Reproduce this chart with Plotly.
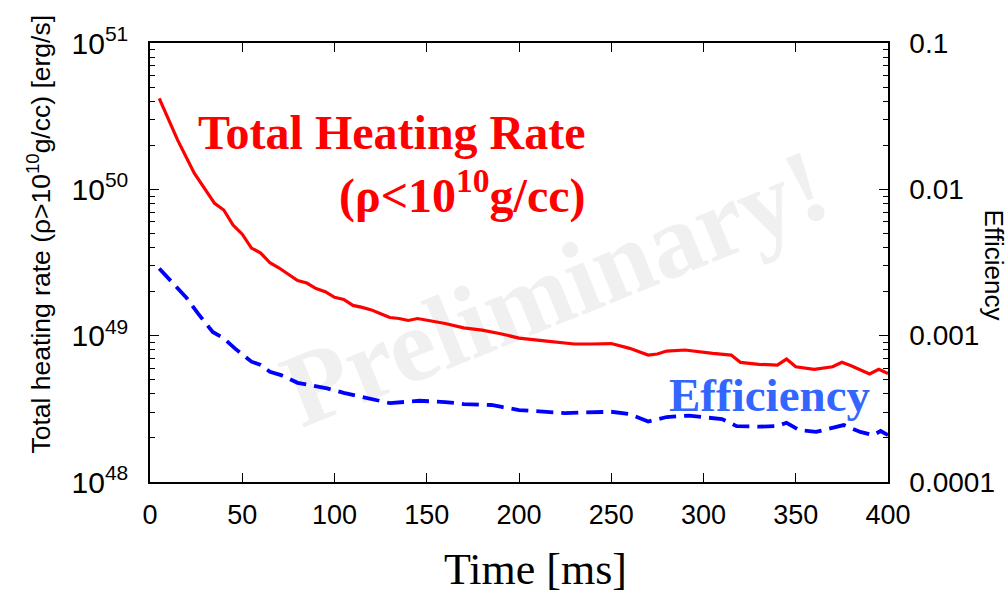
import plotly.graph_objects as go

# ---- data ----
t_heat = [5, 15, 24, 35, 40, 45, 50, 55, 60, 65, 70, 80, 85, 90, 95, 100, 105, 110, 115, 120,
          125, 130, 135, 140, 145, 155, 160, 170, 180, 190, 200, 215, 230, 240, 250, 260, 270, 275, 280, 290,
          300, 305, 315, 320, 330, 340, 345, 350, 360, 370, 375, 380, 390, 395, 400]
heat = [4.19e50, 2.17e50, 1.29e50, 8.02e49, 7.22e49, 5.70e49, 4.94e49, 3.97e49, 3.67e49, 3.15e49,
        2.90e49, 2.38e49, 2.29e49, 2.10e49, 2.00e49, 1.83e49, 1.77e49, 1.61e49, 1.56e49, 1.50e49,
        1.41e49, 1.33e49, 1.31e49, 1.27e49, 1.31e49, 1.24e49, 1.21e49, 1.13e49, 1.09e49, 1.03e49,
        9.63e48, 9.18e48, 8.77e48, 8.77e48, 8.83e48, 8.19e48, 7.37e48, 7.49e48, 7.85e48, 7.98e48,
        7.66e48, 7.57e48, 7.37e48, 6.57e48, 6.37e48, 6.30e48, 6.92e48, 6.13e48, 5.89e48, 6.13e48,
        6.57e48, 6.22e48, 5.47e48, 5.89e48, 5.52e48]

t_eff = [5, 15, 20, 26, 34, 40, 46, 55, 60, 65, 71, 80, 88, 96, 105, 115, 130, 146, 160, 170,
         185, 190, 200, 225, 245, 250, 260, 270, 280, 292, 310, 318, 330, 340, 345, 352, 361, 370, 376, 385,
         392, 396, 400]
eff = [2.88e-3, 2.10e-3, 1.80e-3, 1.42e-3, 1.06e-3, 9.59e-4, 8.19e-4, 6.64e-4, 6.30e-4, 5.66e-4,
       5.38e-4, 4.76e-4, 4.59e-4, 4.36e-4, 4.07e-4, 3.82e-4, 3.46e-4, 3.59e-4, 3.52e-4, 3.41e-4,
       3.36e-4, 3.27e-4, 3.10e-4, 2.96e-4, 3.01e-4, 3.02e-4, 2.91e-4, 2.59e-4, 2.78e-4, 2.84e-4,
       2.69e-4, 2.41e-4, 2.39e-4, 2.41e-4, 2.54e-4, 2.26e-4, 2.20e-4, 2.33e-4, 2.45e-4, 2.20e-4,
       2.09e-4, 2.23e-4, 2.09e-4]

x_ticks = [0, 50, 100, 150, 200, 250, 300, 350, 400]
y_ticks = [1e48, 1e49, 1e50, 1e51]
y_ticktext = ["10<sup>48</sup>", "10<sup>49</sup>", "10<sup>50</sup>", "10<sup>51</sup>"]
y2_ticks = [1e-4, 1e-3, 1e-2, 1e-1]
y2_ticktext = ["0.0001", "0.001", "0.01", "0.1"]

minor_left = [k * 10.0 ** e for e in (48, 49, 50) for k in range(2, 10)]
minor_right = [k * 10.0 ** e for e in (-4, -3, -2) for k in range(2, 10)]

SANS = "Liberation Sans, Arial, sans-serif"
SERIF = "Liberation Serif, Times New Roman, serif"

fig = go.Figure()
fig.add_trace(go.Scatter(x=t_heat, y=heat, mode="lines",
                         line=dict(color="#ff0000", width=3.2), yaxis="y"))
fig.add_trace(go.Scatter(x=t_eff, y=eff, mode="lines",
                         line=dict(color="#0000ff", width=3.8, dash="17px,8px"), yaxis="y2"))

fig.update_layout(
    width=1008, height=596,
    margin=dict(l=150, r=120, t=43, b=114),
    paper_bgcolor="white", plot_bgcolor="white",
    showlegend=False,
    xaxis=dict(range=[0, 400], tickvals=x_ticks, ticks="inside", ticklen=9, tickwidth=1.2,
               tickcolor="black", showline=True, linecolor="black", linewidth=1.5,
               mirror="ticks", showgrid=False, zeroline=False,
               tickfont=dict(family=SANS, size=27, color="black"), ticklabelstandoff=8),
    yaxis=dict(type="log", range=[48, 51], tickvals=y_ticks, ticktext=y_ticktext,
               ticks="inside", ticklen=9, tickwidth=1.2, tickcolor="black",
               showline=True, linecolor="black", linewidth=1.5, mirror=True,
               showgrid=False, zeroline=False,
               minor=dict(tickvals=minor_left, ticks="inside", ticklen=5, tickcolor="black", showgrid=False),
               tickfont=dict(family=SANS, size=30, color="black"), ticklabelstandoff=14),
    yaxis2=dict(type="log", range=[-4, -1], overlaying="y", side="right",
                tickvals=y2_ticks, ticktext=y2_ticktext,
                ticks="inside", ticklen=9, tickwidth=1.2, tickcolor="black",
                showline=True, linecolor="black", linewidth=1.5,
                showgrid=False, zeroline=False,
                minor=dict(tickvals=minor_right, ticks="inside", ticklen=5, tickcolor="black", showgrid=False),
                tickfont=dict(family=SANS, size=28, color="black"), ticklabelstandoff=14),
)

# watermark below the traces
fig.add_shape(type="rect", xref="paper", yref="paper", x0=0.343, x1=0.743, y0=0.316, y1=0.616,
              line=dict(width=0), fillcolor="rgba(0,0,0,0)", layer="below",
              label=dict(text="Preliminary!", textangle=-22,
                         font=dict(family=SERIF, size=105, color="#f0f0f0", weight="bold")))

annotations = [
    dict(text="Total Heating Rate", x=0.5935, y=0.795, xanchor="right", yanchor="middle",
         font=dict(family=SERIF, size=48, color="#ff0000", weight="bold")),
    dict(text="(ρ<10<sup>10</sup>g/cc)", x=0.5935, y=0.66, xanchor="right", yanchor="middle",
         font=dict(family=SERIF, size=48, color="#ff0000", weight="bold")),
    dict(text="Efficiency", x=0.840, y=0.198, xanchor="center", yanchor="middle",
         font=dict(family=SERIF, size=47, color="#3366ff", weight="bold")),
    dict(text="Time [ms]", x=0.523, y=-0.20, xanchor="center", yanchor="middle",
         font=dict(family=SERIF, size=44, color="black")),
    dict(text="Total heating rate (ρ>10<sup>10</sup>g/cc) [erg/s]", x=-0.151, y=0.565,
         xanchor="center", yanchor="middle", textangle=-90,
         font=dict(family=SANS, size=26.5, color="black")),
    dict(text="Efficiency", x=1.143, y=0.494, xanchor="center", yanchor="middle", textangle=90,
         font=dict(family=SANS, size=26, color="black")),
]
for a in annotations:
    fig.add_annotation(xref="paper", yref="paper", showarrow=False, **a)

fig.write_html("out.html")
